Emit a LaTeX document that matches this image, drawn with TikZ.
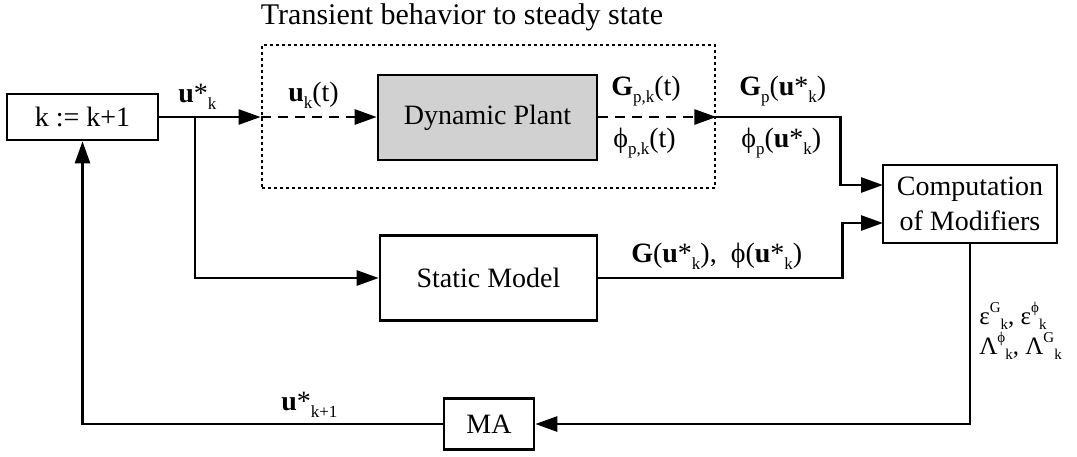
\documentclass[tikz,border=0pt]{standalone}
\usepackage{fontspec}
\setmainfont{Liberation Serif}
\usetikzlibrary{arrows.meta}
\newcommand\lo[1]{\raisebox{-0.55ex}{\fontsize{8.5}{9}\selectfont #1}}
\newcommand\hi[1]{\raisebox{6pt}{\fontsize{7.5}{8}\selectfont #1}}
\newcommand\dn[1]{\raisebox{-2.5pt}{\fontsize{7.5}{8}\selectfont #1}}
\begin{document}
\begin{tikzpicture}
  [x=0.5pt,y=-0.5pt,line width=1.3pt,
   every node/.style={font=\fontsize{14}{17.5}\selectfont,inner sep=0pt},
   blk/.style={draw,rectangle,align=center},
   lbl/.style={anchor=base west},
   arr/.style={-{Triangle[length=11pt,width=7.5pt]}}]
  \useasboundingbox (0,0) rectangle (1077,456);

  \node[blk,minimum width=75.5pt,minimum height=23pt] (inc) at (82.5,117) {k := k+1};
  \node[blk,fill=black!18,minimum width=109.5pt,minimum height=42.5pt] (plant) at (487.5,117.5) {Dynamic Plant};
  \node[blk,minimum width=108.5pt,minimum height=42.5pt] (static) at (488.5,278) {Static Model};
  \node[blk,minimum width=87pt,minimum height=39pt] (comp) at (970,204) {Computation\\of Modifiers};
  \node[blk,minimum width=45pt,minimum height=25.5pt] (ma) at (489,424) {MA};
  \node[draw,line width=1.4pt,dash pattern=on 1.4pt off 1.6pt,minimum width=226.5pt,minimum height=71.5pt] (trans) at (488.5,116.5) {};
  \node[anchor=base,font=\fontsize{15}{17}\selectfont] (title) at (462,24) {Transient behavior to steady state};

  \coordinate (din) at (trans.west |- inc.east);
  \coordinate (dout) at (trans.east |- inc.east);
  \coordinate (br) at (195,117);
  \coordinate (p1) at (883,185);
  \coordinate (p2) at (883,223);

  \draw[arr] (inc.east) -- (din);
  \draw[arr,dash pattern=on 5pt off 3.5pt] (din) -- (din -| plant.west);
  \draw[arr,dash pattern=on 5pt off 3.5pt] (plant.east |- dout) -- (dout);
  \draw[arr] (dout) -- ++(124,0) |- (p1);
  \draw[arr] (br) |- (static.west);
  \draw[arr] (static.east) -- ++(244,0) |- (p2);
  \draw[arr] (comp.south) |- (ma.east);
  \draw[arr] (ma.west) -| (inc.south);

  \node[lbl] (uk) at (177,102) {\textbf{u}*\lo{k}};
  \node[lbl] (ukt) at (287,101) {\textbf{u}\lo{k}(t)};
  \node[lbl] (gpkt) at (610,95) {\textbf{G}\lo{p,k}(t)};
  \node[lbl] (phpkt) at (612,147) {ϕ\lo{p,k}(t)};
  \node[lbl] (gpu) at (738,95) {\textbf{G}\lo{p}(\textbf{u}*\lo{k})};
  \node[lbl] (phpu) at (740,147) {ϕ\lo{p}(\textbf{u}*\lo{k})};
  \node[lbl] (gphi) at (630,262) {\textbf{G}(\textbf{u}*\lo{k}),~ ϕ(\textbf{u}*\lo{k})};
  \node[lbl,font=\fontsize{12.5}{13}\selectfont] (eps) at (978,324) {ε\hi{G}\dn{k}, ε\hi{ϕ}\dn{k}};
  \node[lbl,font=\fontsize{12.5}{13}\selectfont] (lam) at (978,354) {Λ\hi{ϕ}\dn{k}, Λ\hi{G}\dn{k}};
  \node[lbl] (ukp) at (280,410) {\textbf{u}*\lo{k+1}};
\end{tikzpicture}
\end{document}
